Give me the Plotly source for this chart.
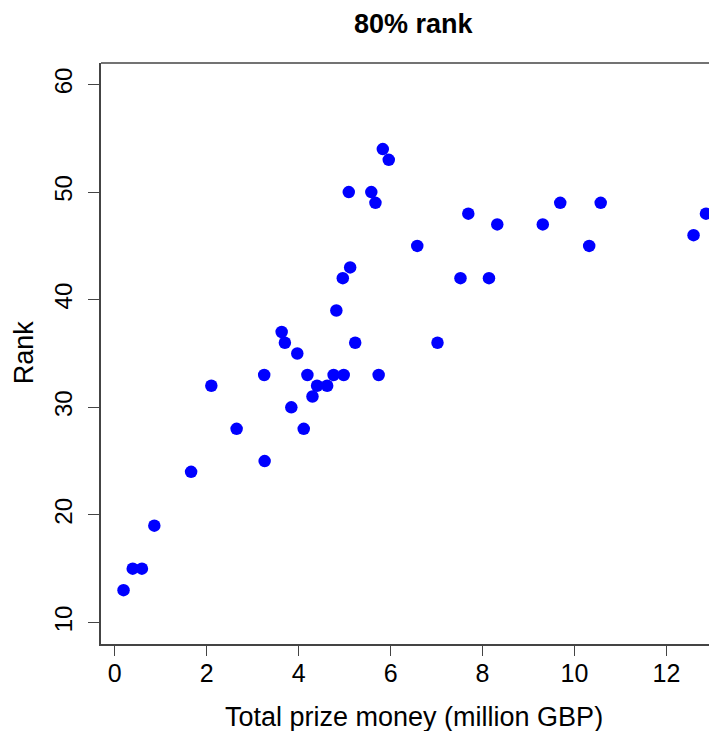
import plotly.graph_objects as go

prize_money = [0.19, 0.39, 0.59, 0.86, 1.66, 2.10, 2.65, 3.25, 3.26, 3.63, 3.70,
               3.84, 3.97, 4.11, 4.19, 4.30, 4.40, 4.62, 4.76, 4.82, 4.96, 4.98,
               5.09, 5.12, 5.23, 5.58, 5.67, 5.74, 5.83, 5.96, 6.58, 7.02, 7.52,
               7.69, 8.14, 8.32, 9.31, 9.69, 10.32, 10.57, 12.59, 12.86]
rank = [13, 15, 15, 19, 24, 32, 28, 33, 25, 37, 36,
        30, 35, 28, 33, 31, 32, 32, 33, 39, 42, 33,
        50, 43, 36, 50, 49, 33, 54, 53, 45, 36, 42,
        48, 42, 47, 47, 49, 45, 49, 46, 48]
x_ticks = [0, 2, 4, 6, 8, 10, 12]
y_ticks = [10, 20, 30, 40, 50, 60]

FONT = "Liberation Sans, Arial, sans-serif"
AX = "#444444"

fig = go.Figure(go.Scatter(
    x=prize_money, y=rank, mode="markers",
    marker=dict(color="#0000FF", size=12.5, line=dict(width=0)),
))

fig.update_layout(
    width=709, height=723,
    margin=dict(l=93, r=0, t=55, b=87),
    paper_bgcolor="white", plot_bgcolor="white",
    showlegend=False,
    font=dict(family=FONT, color="black"),
    xaxis=dict(range=[-0.3, 13.1], tickvals=x_ticks, ticks="outside",
               ticklen=10, tickcolor=AX, showgrid=False, zeroline=False,
               showline=True, linecolor=AX, linewidth=1.5, ticklabelstandoff=-4,
               tickfont=dict(size=25, family=FONT, color="black")),
    yaxis=dict(range=[8, 62], tickvals=y_ticks, ticks="outside",
               ticklen=11, tickcolor=AX, showgrid=False, zeroline=False,
               showline=True, linecolor=AX, linewidth=1.5, tickangle=-90,
               ticklabelstandoff=7,
               tickfont=dict(size=24, family=FONT, color="black")),
    shapes=[dict(type="line", xref="paper", yref="paper", x0=0, x1=1, y0=1, y1=1,
                 line=dict(color=AX, width=1.5))],
    annotations=[
        dict(text="<b>80% rank</b>", xref="paper", yref="paper", x=0.508, y=1.0668,
             showarrow=False, xanchor="center", yanchor="middle", borderpad=0,
             font=dict(size=27, family=FONT, color="black")),
        dict(text="Total prize money (million GBP)", xref="paper", yref="paper",
             x=0.508, y=-0.1256, showarrow=False, xanchor="center", yanchor="middle",
             font=dict(size=27, family=FONT, color="black")),
        dict(text="Rank", xref="paper", yref="paper", x=-0.1245, y=0.5026,
             textangle=-90, showarrow=False, xanchor="center", yanchor="middle",
             borderpad=0,
             font=dict(size=27, family=FONT, color="black")),
    ],
)

fig.write_html("out.html")
